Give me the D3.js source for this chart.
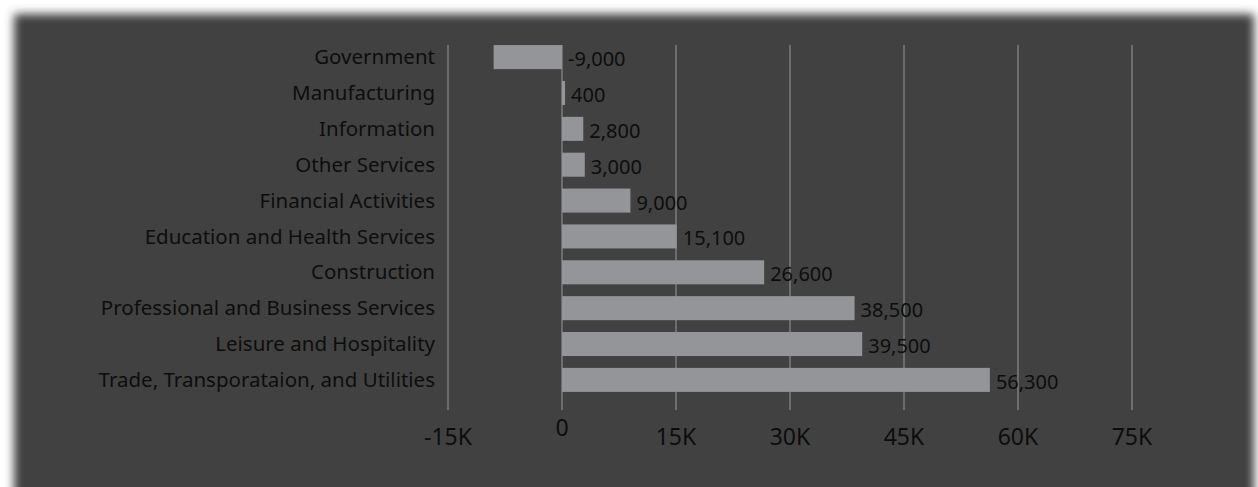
<!DOCTYPE html>
<html>
<head>
<meta charset="utf-8">
<script src="https://cdn.jsdelivr.net/npm/d3@7"></script>
<style>
  html, body { margin: 0; padding: 0; background: #ffffff; }
  svg { display: block; }
  text { font-family: "Noto Sans", "Open Sans", sans-serif; fill: #0d0d0d; }
</style>
</head>
<body>
<svg id="chart" width="1258" height="487"></svg>
<script>
// Job change by sector
const categories = [
  "Government",
  "Manufacturing",
  "Information",
  "Other Services",
  "Financial Activities",
  "Education and Health Services",
  "Construction",
  "Professional and Business Services",
  "Leisure and Hospitality",
  "Trade, Transporataion, and Utilities"
];
const values = [-9000, 400, 2800, 3000, 9000, 15100, 26600, 38500, 39500, 56300];
const tickValues = [-15000, 0, 15000, 30000, 45000, 60000, 75000];
const tickLabels = ["-15K", "0", "15K", "30K", "45K", "60K", "75K"];

const svg = d3.select("#chart");

// Dark panel with softened edges
const defs = svg.append("defs");
defs.append("filter").attr("id", "soft")
  .attr("x", "-5%").attr("y", "-5%").attr("width", "110%").attr("height", "110%")
  .append("feGaussianBlur").attr("stdDeviation", 5);
svg.append("rect")
  .attr("x", 14).attr("y", 14).attr("width", 1240).attr("height", 500)
  .attr("fill", "#414141").attr("filter", "url(#soft)");
svg.append("rect")
  .attr("x", 24).attr("y", 24).attr("width", 1220).attr("height", 470)
  .attr("fill", "#414141");

const x = d3.scaleLinear().domain([-15000, 75000]).range([448, 1132]);
const y = d3.scaleBand().domain(categories).range([39, 398]).paddingInner(0.33).paddingOuter(0.17);

// Vertical gridlines
svg.append("g").selectAll("line").data(tickValues).join("line")
  .attr("x1", d => x(d)).attr("x2", d => x(d))
  .attr("y1", 45).attr("y2", 410)
  .attr("stroke", "#9a9a9a").attr("stroke-width", 1);

// Bars
svg.append("g").selectAll("rect").data(values).join("rect")
  .attr("x", d => Math.min(x(0), x(d)))
  .attr("y", (d, i) => y(categories[i]))
  .attr("width", d => Math.abs(x(d) - x(0)))
  .attr("height", y.bandwidth())
  .attr("fill", "#949599");

// Value labels (plain hyphen for negatives)
const fmt = d3.formatLocale({ decimal: ".", thousands: ",", grouping: [3], currency: ["", ""], minus: "-" }).format(",");
svg.append("g").selectAll("text").data(values).join("text")
  .attr("x", d => Math.max(x(0), x(d)) + 6)
  .attr("y", (d, i) => y(categories[i]) + y.bandwidth() / 2 + 2)
  .attr("dy", "0.35em")
  .attr("font-size", 20)
  .text(d => fmt(d));

// Category labels
svg.append("g").selectAll("text").data(categories).join("text")
  .attr("x", 435)
  .attr("y", d => y(d) + y.bandwidth() / 2)
  .attr("dy", "0.35em")
  .attr("text-anchor", "end")
  .attr("font-size", 20.5)
  .text(d => d);

// X-axis tick labels
svg.append("g").selectAll("text").data(tickValues).join("text")
  .attr("x", d => x(d))
  .attr("y", d => d === 0 ? 428 : 437)
  .attr("dy", "0.35em")
  .attr("text-anchor", "middle")
  .attr("font-size", 23)
  .text((d, i) => tickLabels[i]);
</script>
</body>
</html>
